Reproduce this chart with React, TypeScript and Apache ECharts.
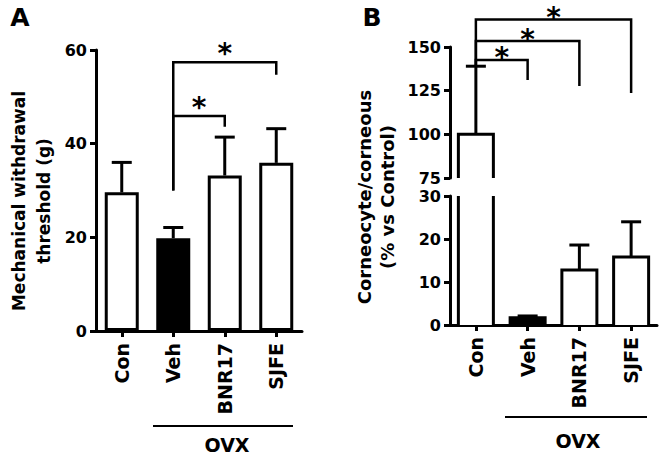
import React, { useEffect, useRef } from "react";
import * as echarts from "echarts";

const categories = ["Con", "Veh", "BNR17", "SJFE"];
// Panel A: mechanical withdrawal threshold (g)
const thresholdMean = [29.6, 19.8, 33.2, 35.9];
const thresholdUpper = [36.0, 22.1, 41.4, 43.2];
// Panel B: corneocyte/corneous (% vs Control)
const corneoMean = [100, 1.7, 12.8, 15.8];
const corneoUpper = [139, 2.1, 18.6, 24.0];
// significance brackets: [fromIndex, toIndex, legStart, barLevel, rightLegEnd]
const bracketsA = [
  [1, 3, 30, 57.4, 54.7],
  [1, 2, 30, 45.9, 43.6],
];
const bracketsB = [
  [0, 1, 139, 142.6, 131.1],
  [0, 2, 139, 153.4, 127.7],
  [0, 3, 139, 165.7, 123.7],
];

const FONT = "DejaVu Sans";
const BLACK = "#000";

export default function App() {
  const ref = useRef<HTMLDivElement>(null);
  useEffect(() => {
    if (!ref.current) return;
    const chart = echarts.init(ref.current, null, { renderer: "svg" });

    const labelStyle = { color: BLACK, fontFamily: FONT, fontWeight: "bold" as const, fontSize: 16 };
    const axisLine = { show: true, lineStyle: { color: BLACK, width: 3 } };
    const yTick = { show: true, length: 6, lineStyle: { color: BLACK, width: 3 } };

    const xCat = (grid: number, show: boolean) => ({
      gridIndex: grid,
      type: "category",
      data: categories,
      show,
      axisLine,
      axisTick: { show: true, alignWithLabel: true, length: 6, lineStyle: { color: BLACK, width: 3 } },
      axisLabel: { ...labelStyle, fontSize: 19, rotate: 90, margin: 12 },
      splitLine: { show: false },
    });
    const yVal = (grid: number, min: number, max: number, interval: number) => ({
      gridIndex: grid,
      type: "value",
      min,
      max,
      interval,
      axisLine,
      axisTick: yTick,
      axisLabel: { ...labelStyle, margin: 9 },
      splitLine: { show: false },
    });

    const errRender = (lo: number, hi: number) => (params: any, api: any) => {
      const i = api.value(0);
      const m = api.value(1);
      const u = api.value(2);
      if (m < lo || m > hi) return null;
      const p1 = api.coord([i, m]);
      const p2 = api.coord([i, u]);
      const style = { stroke: BLACK, lineWidth: 3 };
      return {
        type: "group",
        children: [
          { type: "line", shape: { x1: p1[0], y1: p1[1], x2: p2[0], y2: p2[1] }, style },
          { type: "line", shape: { x1: p2[0] - 10, y1: p2[1], x2: p2[0] + 10, y2: p2[1] }, style },
        ],
      };
    };

    const bracketRender = (starOffset: number) => (params: any, api: any) => {
      const f = api.value(0);
      const t = api.value(1);
      const a = api.coord([f, api.value(2)]);
      const b = api.coord([f, api.value(3)]);
      const c = api.coord([t, api.value(3)]);
      const d = api.coord([t, api.value(4)]);
      return {
        type: "group",
        children: [
          {
            type: "polyline",
            shape: { points: [a, b, c, d] },
            style: { stroke: BLACK, lineWidth: 2.5, fill: "none" },
          },
          {
            type: "text",
            style: {
              text: "*",
              x: (b[0] + c[0]) / 2,
              y: b[1] - starOffset,
              fontSize: 28,
              fontWeight: "bold",
              fontFamily: FONT,
              fill: BLACK,
              align: "center",
              verticalAlign: "middle",
            },
          },
        ],
      };
    };

    const barRender = (lo: number, hi: number) => (params: any, api: any) => {
      const i = api.value(0);
      const v = api.value(1);
      if (v <= lo) return null;
      const hw = 17.5;
      const fill = i === 1 ? BLACK : "#fff";
      const base = api.coord([i, lo]);
      const top = api.coord([i, Math.min(v, hi)]);
      const l = base[0] - hw;
      const r = base[0] + hw;
      const children: any[] = [
        { type: "rect", shape: { x: l, y: top[1], width: 2 * hw, height: base[1] - top[1] }, style: { fill, stroke: "none" } },
      ];
      const st = { stroke: BLACK, lineWidth: 3, fill: "none" };
      if (v <= hi) {
        children.push({ type: "polyline", shape: { points: [[l, base[1]], [l, top[1]], [r, top[1]], [r, base[1]]] }, style: st });
      } else {
        children.push({ type: "line", shape: { x1: l, y1: base[1], x2: l, y2: top[1] }, style: st });
        children.push({ type: "line", shape: { x1: r, y1: base[1], x2: r, y2: top[1] }, style: st });
      }
      return { type: "group", children };
    };

    const errDataA = categories.map((_, i) => [i, thresholdMean[i], thresholdUpper[i]]);
    const errDataB = categories.map((_, i) => [i, corneoMean[i], corneoUpper[i]]);
    const barDataB = categories.map((_, i) => [i, corneoMean[i]]);

    const textStyle = (text: string, x: number, y: number, fontSize: number, extra: any = {}) => ({
      type: "text",
      x,
      y,
      ...extra,
      style: {
        text,
        fontSize,
        fontWeight: "bold",
        fontFamily: FONT,
        fill: BLACK,
        align: "center",
        verticalAlign: "middle",
        ...(extra.style || {}),
      },
    });

    chart.setOption({
      animation: false,
      backgroundColor: "#fff",
      grid: [
        { left: 96, top: 50, width: 206, height: 281 },
        { left: 450, top: 47, width: 207, height: 131 },
        { left: 450, top: 196, width: 207, height: 129 },
      ],
      xAxis: [xCat(0, true), xCat(1, false), xCat(2, true)],
      yAxis: [yVal(0, 0, 60, 20), yVal(1, 75, 150, 25), yVal(2, 0, 30, 10)],
      series: [
        {
          type: "bar",
          xAxisIndex: 0,
          yAxisIndex: 0,
          barWidth: 34,
          data: thresholdMean.map((v, i) => ({ value: v, itemStyle: { color: i === 1 ? BLACK : "#fff" } })),
          itemStyle: { borderColor: BLACK, borderWidth: 3 },
          z: 2,
        },
        { type: "custom", xAxisIndex: 0, yAxisIndex: 0, data: errDataA, renderItem: errRender(-1e9, 1e9), z: 3 },
        { type: "custom", xAxisIndex: 0, yAxisIndex: 0, data: bracketsA, renderItem: bracketRender(9), z: 3 },
        { type: "custom", xAxisIndex: 1, yAxisIndex: 1, data: barDataB, renderItem: barRender(75, 150), z: 2 },
        { type: "custom", xAxisIndex: 2, yAxisIndex: 2, data: barDataB, renderItem: barRender(0, 30), z: 2 },
        { type: "custom", xAxisIndex: 1, yAxisIndex: 1, data: errDataB, renderItem: errRender(75, 1e9), z: 3 },
        { type: "custom", xAxisIndex: 2, yAxisIndex: 2, data: errDataB, renderItem: errRender(0, 30), z: 3 },
        { type: "custom", xAxisIndex: 1, yAxisIndex: 1, data: bracketsB, renderItem: bracketRender(2), z: 3 },
      ],
      graphic: [
        textStyle("A", 20, 17, 25),
        textStyle("B", 372, 17, 25),
        textStyle("Mechanical withdrawal\nthreshold (g)", 31, 201, 17, { rotation: Math.PI / 2, style: { lineHeight: 25 } }),
        textStyle("Corneocyte/corneous\n(% vs Control)", 376, 197, 18, { rotation: Math.PI / 2, style: { lineHeight: 23 } }),
        { type: "line", shape: { x1: 153, y1: 426, x2: 293, y2: 426 }, style: { stroke: BLACK, lineWidth: 2 } },
        { type: "line", shape: { x1: 505, y1: 417, x2: 647, y2: 417 }, style: { stroke: BLACK, lineWidth: 2 } },
        textStyle("OVX", 227, 445, 19),
        textStyle("OVX", 578, 441, 19),
      ],
    });
    return () => chart.dispose();
  }, []);
  return <div ref={ref} style={{ position: "absolute", left: 0, top: 0, width: 669, height: 458 }} />;
}
